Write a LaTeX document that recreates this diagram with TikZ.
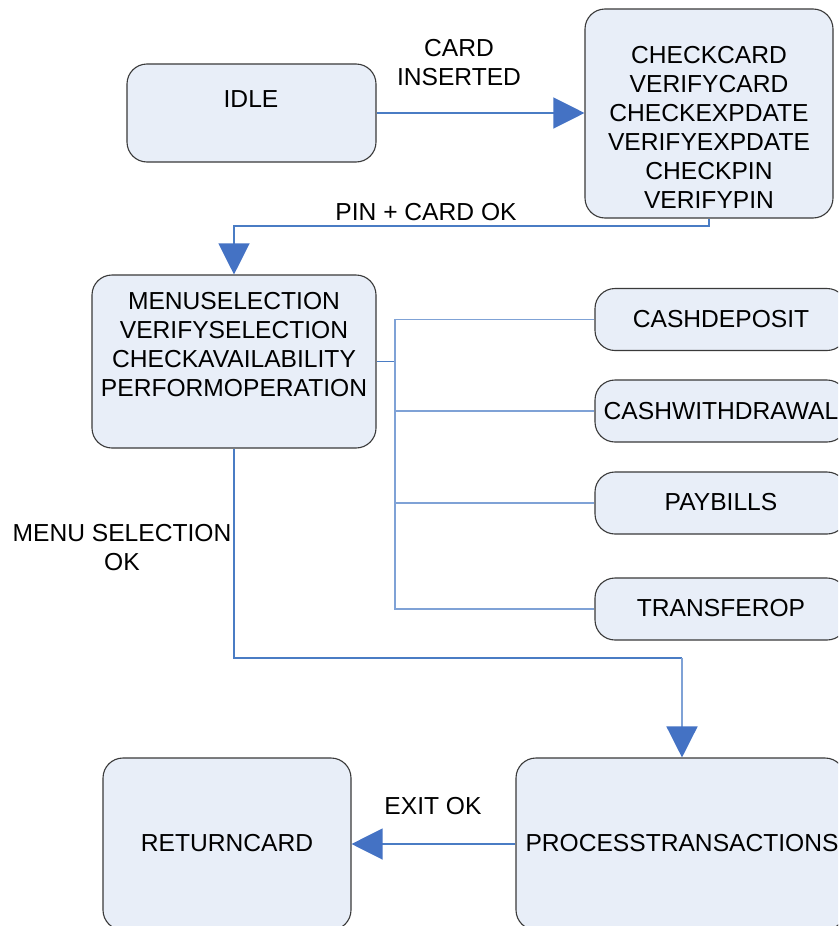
\documentclass[tikz,border=0pt]{standalone}
\usepackage{fontspec}
\setmainfont{Liberation Sans}
\usetikzlibrary{arrows.meta}
\definecolor{boxfill}{HTML}{E8EEF8}
\definecolor{boxline}{HTML}{3A3A3A}
\definecolor{conn}{HTML}{4A7CC4}
\definecolor{branch}{HTML}{7FA2D6}
\definecolor{tipfill}{HTML}{4472C4}
\tikzset{
  statebox/.style={draw=boxline, line width=1.1pt, fill=boxfill, rounded corners=20pt, inner sep=0pt},
  txt/.style={font=\fontsize{24.6}{29}\selectfont, align=center, inner sep=0pt, text=black},
  conline/.style={draw=conn, line width=1.2pt},
  brline/.style={draw=branch, line width=1.4pt},
  tip/.style={-{Triangle[length=31pt,width=31pt,fill=tipfill,color=tipfill]}},
}
\begin{document}
\begin{tikzpicture}[x=1pt,y=-1pt]
\clip (0,0) rectangle (838,926);
\fill[white] (0,0) rectangle (838,926);

% boxes
\node[statebox, minimum width=249pt, minimum height=98pt] (idle) at (251.5,113) {};
\node[statebox, minimum width=248pt, minimum height=209pt] (check) at (709,113.5) {};
\node[statebox, minimum width=284pt, minimum height=173pt] (menu) at (234,361.5) {};
\node[statebox, minimum width=252pt, minimum height=62pt] (dep) at (721,319.5) {};
\node[statebox, minimum width=252pt, minimum height=62pt] (wd) at (721,411) {};
\node[statebox, minimum width=252pt, minimum height=62pt] (pay) at (721,503) {};
\node[statebox, minimum width=252pt, minimum height=62pt] (tra) at (721,609) {};
\node[statebox, minimum width=248pt, minimum height=172pt] (ret) at (227,844) {};
\node[statebox, minimum width=329pt, minimum height=172pt] (proc) at (680.5,844) {};

% box texts
\node[txt] (tidle) at (251,99) {IDLE};
\node[txt] (tcheck) at (709,127) {CHECKCARD\\VERIFYCARD\\CHECKEXPDATE\\VERIFYEXPDATE\\CHECKPIN\\VERIFYPIN};
\node[txt] (tmenu) at (234,345) {MENUSELECTION\\VERIFYSELECTION\\CHECKAVAILABILITY\\PERFORMOPERATION};
\node[txt] (tdep) at (721,319) {CASHDEPOSIT};
\node[txt] (twd) at (721,411) {CASHWITHDRAWAL};
\node[txt] (tpay) at (721,502) {PAYBILLS};
\node[txt] (ttra) at (721,608) {TRANSFEROP};
\node[txt] (tret) at (227,843) {RETURNCARD};
\node[txt] (tproc) at (682,843) {PROCESSTRANSACTIONS};

% connector labels
\node[txt] (lcard) at (459,63) {CARD\\INSERTED};
\node[txt] (lpin) at (426,212) {PIN + CARD OK};
\node[txt] (lmenu) at (122,548) {MENU SELECTION\\OK};
\node[txt] (lexit) at (433,806) {EXIT OK};

% helper coordinates
\coordinate (bx) at (395,0);
\coordinate (jn) at (0,658);
\coordinate (pj) at (0,226);

% connectors
\draw[conline, tip] (idle.east) -- (idle.east -| check.west);
\draw[conline, tip] (check.south) -- (check.south |- pj) -| (menu.north);
\draw[conline] (menu.east) -- (menu.east -| bx);
\draw[brline] (dep.west) -- (dep.west -| bx) -- (tra.west -| bx) -- (tra.west);
\draw[brline] (wd.west) -- (wd.west -| bx);
\draw[brline] (pay.west) -- (pay.west -| bx);
\draw[conline] (menu.south) -- (menu.south |- jn) -- ([xshift=1.5pt]proc.north |- jn);
\draw[brline, tip] ([xshift=1.5pt]proc.north |- jn) -- ([xshift=1.5pt]proc.north);
\draw[conline, tip] (proc.west) -- (ret.east);
\end{tikzpicture}
\end{document}
